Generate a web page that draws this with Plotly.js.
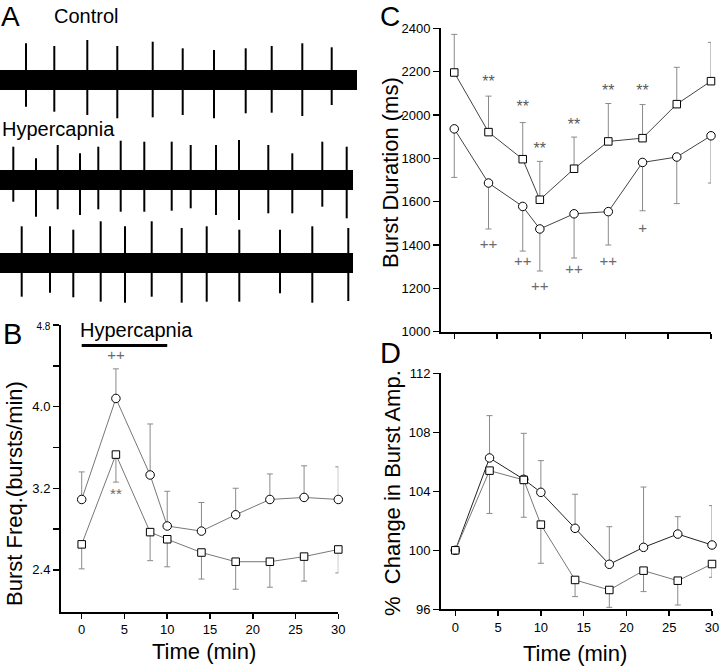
<!DOCTYPE html>
<html>
<head>
<meta charset="utf-8">
<script src="https://cdn.plot.ly/plotly-3.0.1.min.js"></script>
<style>
html,body{margin:0;padding:0;background:#fff;}
#chart{width:720px;height:666px;}
</style>
</head>
<body>
<div id="chart"></div>
<script>
// ---------- Panel A: burst recordings (time in a.u., amplitude in a.u.) ----------
const recordingEnd = [357, 353, 353];
const ctrlBurstT = [26, 54.3, 87.3, 117.3, 152.7, 182.7, 214, 245.7, 271.7, 302.3, 331.7];
const ctrlUp     = [36.7, 34, 40, 34, 38.3, 31.7, 30, 31.7, 34, 36.7, 32.7];
const ctrlDown   = [26.7, 31.7, 35, 38.3, 37.3, 35, 38.3, 33.3, 32.7, 36, 25];
const hyp1BurstT = [13.3, 36, 57.7, 80, 98.3, 120.7, 144.3, 171.7, 190.7, 216, 239, 268.3, 292.3, 322.3, 346.7];
const hyp1Up     = [33.3, 21.7, 35, 26.7, 33.3, 39.3, 38.3, 38.3, 35, 35, 40, 35, 26.7, 38.3, 33.3];
const hyp1Down   = [21.7, 36.7, 29.3, 35, 29.3, 31.7, 31.7, 30.7, 28.3, 35, 40, 33.3, 33.3, 26.7, 38.3];
const hyp2BurstT = [21.7, 50, 73.3, 100.7, 125, 151.7, 181.7, 206.7, 239.3, 280, 312.3, 348.3];
const hyp2Up     = [36.7, 36.7, 33.3, 41.7, 36.7, 41.7, 35, 36.7, 33.3, 33.3, 36.7, 35];
const hyp2Down   = [33.7, 29.7, 34.3, 38.7, 39.7, 33.7, 39.7, 38.7, 38.7, 30.3, 39.7, 38];

// ---------- Shared time points (min) ----------
const times = [0, 4, 8, 10, 14, 18, 22, 26, 30];

// ---------- Panel B: burst frequency (bursts/min) ----------
const freqCircle    = [3.09, 4.08, 3.33, 2.83, 2.78, 2.94, 3.09, 3.11, 3.09];
const freqCircleErr = [0.27, 0.29, 0.50, 0.34, 0.28, 0.26, 0.25, 0.31, 0.32];
const freqSquare    = [2.65, 3.53, 2.77, 2.70, 2.57, 2.48, 2.48, 2.53, 2.60];
const freqSquareErr = [0.24, 0.27, 0.28, 0.27, 0.26, 0.27, 0.25, 0.24, 0.23];
const hyperPeriod   = [0, 10];
const hyperLevel    = 4.6;
const freqMarkX = [4, 4];
const freqMarkY = [4.49, 3.135];
const freqMarkText = ['++', '**'];

// ---------- Panel C: burst duration (ms) ----------
const durSquare    = [2196, 1921, 1796, 1609, 1752, 1878, 1893, 2050, 2156];
const durSquareErr = [176, 166, 169, 177, 146, 175, 155, 170, 179];
const durCircle    = [1936, 1686, 1578, 1474, 1544, 1554, 1781, 1806, 1904];
const durCircleErr = [224, 212, 206, 194, 204, 154, 223, 215, 218];
const durStarX = [4, 8, 10, 14, 18, 22];
const durStarY = [2147, 2031, 1839, 1951, 2108, 2108];
const durPlusX = [4, 8, 10, 14, 18, 22];
const durPlusY = [1397, 1320, 1207, 1283, 1320, 1475];
const durPlusText = ['++', '++', '++', '++', '++', '+'];

// ---------- Panel D: % change in burst amplitude ----------
const ampCircle    = [100, 106.26, 104.81, 103.93, 101.49, 99.05, 100.2, 101.1, 100.36];
const ampCircleErr = [0, 2.87, 3.12, 2.15, 2.31, 2.55, 4.09, 1.18, 2.67];
const ampSquare    = [100, 105.4, 104.77, 101.74, 97.99, 97.31, 98.62, 97.94, 99.07];
const ampSquareErr = [0, 2.9, 2.53, 2.62, 1.13, 1.18, 1.42, 1.65, 0.9];

// ---------- helpers ----------
const FONT = 'Liberation Sans, Arial, sans-serif';
const W = 720, H = 666;
const px = v => v / W;
const py = v => 1 - v / H;

function spikes(t, up, down) {
  const x = [], y = [];
  t.forEach((ti, i) => { x.push(ti, ti, null); y.push(up[i], -down[i], null); });
  return {x, y};
}

const traces = [];
function recording(t, up, down, end, yax) {
  traces.push({x: [0, end], y: [0, 0], xaxis: 'x', yaxis: yax, mode: 'lines',
    line: {color: '#000', width: 20}, hoverinfo: 'skip', showlegend: false});
  const s = spikes(t, up, down);
  traces.push({x: s.x, y: s.y, xaxis: 'x', yaxis: yax, mode: 'lines',
    line: {color: '#000', width: 2}, hoverinfo: 'skip', showlegend: false, connectgaps: false});
}
recording(ctrlBurstT, ctrlUp, ctrlDown, recordingEnd[0], 'y');
recording(hyp1BurstT, hyp1Up, hyp1Down, recordingEnd[1], 'y2');
recording(hyp2BurstT, hyp2Up, hyp2Down, recordingEnd[2], 'y3');

function series(xa, ya, y, err, up, symbol, lineColor, size) {
  const e = up
    ? {type: 'data', symmetric: false, array: err, arrayminus: err.map(() => 0)}
    : {type: 'data', symmetric: false, array: err.map(() => 0), arrayminus: err};
  e.color = '#8a8a8a'; e.thickness = 1; e.width = 3;
  traces.push({x: times, y: y, xaxis: xa, yaxis: ya, mode: 'lines+markers',
    line: {color: lineColor, width: 1},
    marker: {symbol: symbol, size: size, color: '#fff', line: {color: '#000', width: 1}},
    error_y: e, cliponaxis: false, showlegend: false});
}

// Panel B
traces.push({x: hyperPeriod, y: [hyperLevel, hyperLevel], xaxis: 'x2', yaxis: 'y4', mode: 'lines',
  line: {color: '#000', width: 3}, showlegend: false, cliponaxis: false});
series('x2', 'y4', freqCircle, freqCircleErr, true, 'circle', '#777', 8.5);
series('x2', 'y4', freqSquare, freqSquareErr, false, 'square', '#777', 7.5);
traces.push({x: freqMarkX, y: freqMarkY, text: freqMarkText, xaxis: 'x2', yaxis: 'y4', mode: 'text',
  textfont: {family: FONT, size: 15, color: '#6a6a6a'}, showlegend: false, cliponaxis: false});

// Panel C
series('x3', 'y5', durSquare, durSquareErr, true, 'square', '#444', 7.5);
series('x3', 'y5', durCircle, durCircleErr, false, 'circle', '#444', 8.5);
traces.push({x: durStarX, y: durStarY, text: durStarX.map(() => '**'), xaxis: 'x3', yaxis: 'y5', mode: 'text',
  textfont: {family: FONT, size: 16, color: '#5a5a5a'}, showlegend: false, cliponaxis: false});
traces.push({x: durPlusX, y: durPlusY, text: durPlusText, xaxis: 'x3', yaxis: 'y5', mode: 'text',
  textfont: {family: FONT, size: 15, color: '#6a6a6a'}, showlegend: false, cliponaxis: false});

// Panel D
series('x4', 'y6', ampCircle, ampCircleErr, true, 'circle', '#222', 8.5);
series('x4', 'y6', ampSquare, ampSquareErr, false, 'square', '#777', 7.5);

const tickFont = {family: FONT, size: 13, color: '#000'};
function dataX(domain, range, labels) {
  return {domain: domain, range: range, showgrid: false, zeroline: false, showline: true,
    linecolor: '#000', linewidth: 2, ticks: 'outside', ticklen: 5, tickwidth: 1.5, tickcolor: '#000',
    tickvals: [0, 5, 10, 15, 20, 25, 30], showticklabels: labels, tickfont: tickFont, fixedrange: true};
}
function dataY(domain, range, tickvals, ticktext, anchor) {
  return {domain: domain, range: range, anchor: anchor, showgrid: false, zeroline: false, showline: true,
    linecolor: '#000', linewidth: 2, ticks: 'outside', ticklen: 6, tickwidth: 1.5, tickcolor: '#000',
    tickvals: tickvals, ticktext: ticktext, tickfont: tickFont, fixedrange: true};
}
const hidden = (domain, range, anchor) => ({domain: domain, range: range, anchor: anchor, visible: false, fixedrange: true});

const layout = {
  width: W, height: H,
  margin: {l: 0, r: 0, t: 0, b: 0},
  paper_bgcolor: '#fff', plot_bgcolor: 'rgba(0,0,0,0)',
  showlegend: false,
  font: {family: FONT, color: '#000'},
  xaxis: hidden([0, 0.5], [0, 360], 'y'),
  yaxis: hidden([py(125), py(35)], [-45, 45], 'x'),
  yaxis2: hidden([py(225), py(135)], [-45, 45], 'x'),
  yaxis3: hidden([py(308), py(218)], [-45, 45], 'x'),
  xaxis2: Object.assign(dataX([px(61), px(338.3)], [-2.42, 30], true), {anchor: 'y4'}),
  yaxis4: dataY([py(611.7), py(325)], [1.99, 4.8], [2.4, 2.8, 3.2, 3.6, 4.0, 4.4, 4.8],
    ['2.4', '', '3.2', '', '4.0', '', '<span style="font-size:10px">4.8</span>'], 'x2'),
  xaxis3: Object.assign(dataX([px(441), px(711)], [-1.55, 30], false), {anchor: 'y5'}),
  yaxis5: dataY([py(331.7), py(28.3)], [1000, 2400], [1000, 1200, 1400, 1600, 1800, 2000, 2200, 2400],
    ['1000', '1200', '1400', '1600', '1800', '2000', '2200', '2400'], 'x3'),
  xaxis4: Object.assign(dataX([px(441), px(712)], [-1.67, 30], true), {anchor: 'y6'}),
  yaxis6: dataY([py(609.3), py(373.3)], [96, 112], [96, 100, 104, 108, 112],
    ['96', '100', '104', '108', '112'], 'x4'),
  annotations: []
};

function ann(text, x, y, size, opts) {
  layout.annotations.push(Object.assign({text: text, x: px(x), y: py(y), xref: 'paper', yref: 'paper',
    showarrow: false, font: {family: FONT, size: size, color: '#000'}, xanchor: 'center', yanchor: 'middle'}, opts || {}));
}
// panel letters
ann('A', 10, 0, 28, {yanchor: 'top', borderpad: 0});
ann('B', 13, 334, 29);
ann('C', 390, 0, 28, {yanchor: 'top', borderpad: 0});
ann('D', 390, 353, 29);
// panel A labels
ann('Control', 52, 16.5, 20, {xanchor: 'left'});
ann('Hypercapnia', 0, 128.5, 20, {xanchor: 'left'});
// panel B labels
ann('Hypercapnia', 78, 329.5, 20, {xanchor: 'left'});
// axis titles
ann('Burst Freq.(bursts/min)', 14, 494, 22, {textangle: -90});
ann('Time (min)', 204, 651, 22);
ann('Burst Duration (ms)', 391, 172, 22, {textangle: -90});
ann('%  Change in Burst Amp.', 392, 493, 22, {textangle: -90});
ann('Time (min)', 575, 653, 22);

Plotly.newPlot('chart', traces, layout, {staticPlot: true, displayModeBar: false});
</script>
</body>
</html>
